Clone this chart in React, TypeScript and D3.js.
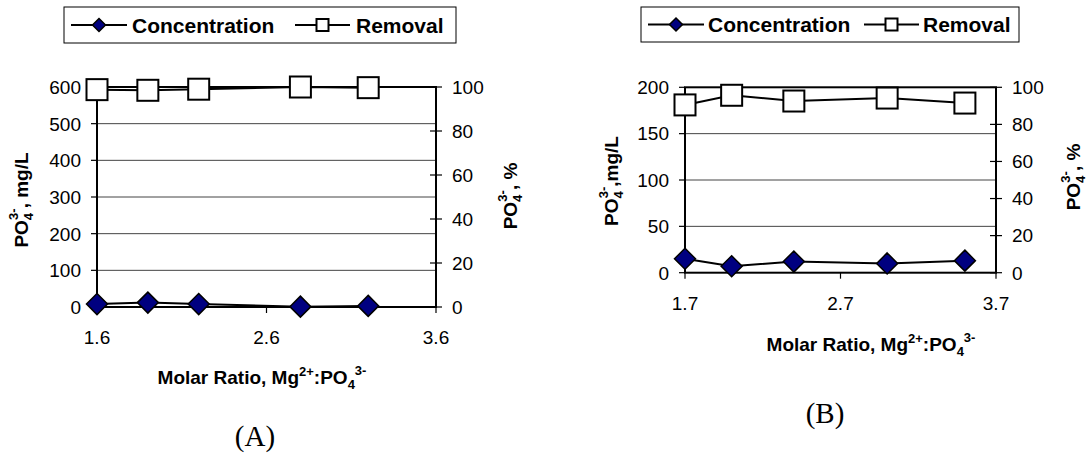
import React from "react";
import * as d3 from "d3";

// ---- Data ----
const ratioA = [1.6, 1.9, 2.2, 2.8, 3.2];
const concentrationA = [8, 12, 8, 1, 3];
const removalA = [98.8, 98.5, 99.0, 100, 99.7];
const xTicksA = [1.6, 2.6, 3.6];
const yLeftTicksA = [0, 100, 200, 300, 400, 500, 600];

const ratioB = [1.7, 2.0, 2.4, 3.0, 3.5];
const concentrationB = [15, 7, 12, 10, 13];
const removalB = [90.5, 95.7, 92.6, 94.2, 91.5];
const xTicksB = [1.7, 2.7, 3.7];
const yLeftTicksB = [0, 50, 100, 150, 200];

const yRightTicks = [0, 20, 40, 60, 80, 100];
const seriesNames = ["Concentration", "Removal"];

const SANS = "Arial, 'Liberation Sans', Helvetica, sans-serif";
const SERIF = "'Times New Roman', 'Liberation Serif', serif";
const NAVY = "#000080";

type PanelProps = {
  ratio: number[];
  conc: number[];
  rem: number[];
  xTicks: number[];
  yTicks: number[];
  xDomain: [number, number];
  yMax: number;
  left: number;
  right: number;
  top: number;
  bottom: number;
  legend: { x0: number; x1: number; y0: number; y1: number; l1: number; t1: number; l2: number; t2: number };
  leftTitle: { x: number; y: number; sep: string };
  rightTitle: { x: number; y: number };
  tickBaseline: number;
  xTitle: { x: number; y: number };
  label: { text: string; x: number; y: number };
};

function Diamond({ x, y, r }: { x: number; y: number; r: number }) {
  return (
    <path
      d={`M${x},${y - r}L${x + r},${y}L${x},${y + r}L${x - r},${y}Z`}
      fill={NAVY}
      stroke="#000"
      strokeWidth={1.5}
    />
  );
}

function Square({ x, y, s }: { x: number; y: number; s: number }) {
  return <rect x={x - s / 2} y={y - s / 2} width={s} height={s} fill="#fff" stroke="#000" strokeWidth={2} />;
}

function Panel(p: PanelProps) {
  const x = d3.scaleLinear().domain(p.xDomain).range([p.left, p.right]);
  const yL = d3.scaleLinear().domain([0, p.yMax]).range([p.bottom, p.top]);
  const yR = d3.scaleLinear().domain([0, 100]).range([p.bottom, p.top]);
  const lineL = d3
    .line<number>()
    .x((_, i) => x(p.ratio[i]))
    .y((d) => yL(d));
  const lineR = d3
    .line<number>()
    .x((_, i) => x(p.ratio[i]))
    .y((d) => yR(d));
  const lg = p.legend;
  const lgMid = (lg.y0 + lg.y1) / 2;
  return (
    <g>
      {/* legend */}
      <rect x={lg.x0} y={lg.y0} width={lg.x1 - lg.x0} height={lg.y1 - lg.y0} fill="#fff" stroke="#000" strokeWidth={1} />
      <line x1={lg.l1} x2={lg.l1 + 56} y1={lgMid} y2={lgMid} stroke="#000" strokeWidth={2} />
      <Diamond x={lg.l1 + 28} y={lgMid} r={6.5} />
      <text x={lg.t1} y={lgMid + 7.5} fontFamily={SANS} fontWeight="bold" fontSize={21}>
        {seriesNames[0]}
      </text>
      <line x1={lg.l2} x2={lg.l2 + 55} y1={lgMid} y2={lgMid} stroke="#000" strokeWidth={2} />
      <Square x={lg.l2 + 27.5} y={lgMid} s={12} />
      <text x={lg.t2} y={lgMid + 7.5} fontFamily={SANS} fontWeight="bold" fontSize={21}>
        {seriesNames[1]}
      </text>

      {/* gridlines */}
      {p.yTicks
        .filter((t) => t > 0 && t < p.yMax)
        .map((t) => (
          <line key={"g" + t} x1={p.left} x2={p.right} y1={yL(t)} y2={yL(t)} stroke="#444" strokeWidth={1} />
        ))}
      {/* left ticks + labels */}
      {p.yTicks.map((t) => (
        <g key={"l" + t}>
          <line x1={p.left - 6} x2={p.left} y1={yL(t)} y2={yL(t)} stroke="#000" strokeWidth={1.2} />
          <text x={p.left - 16} y={yL(t)} dy="0.36em" textAnchor="end" fontFamily={SANS} fontSize={19}>
            {t}
          </text>
        </g>
      ))}
      {/* right ticks + labels */}
      {yRightTicks.map((t) => (
        <g key={"r" + t}>
          <line x1={p.right - 6} x2={p.right + 6} y1={yR(t)} y2={yR(t)} stroke="#000" strokeWidth={1.2} />
          <text x={p.right + 16} y={yR(t)} dy="0.36em" textAnchor="start" fontFamily={SANS} fontSize={19}>
            {t}
          </text>
        </g>
      ))}
      {/* x ticks + labels */}
      {p.xTicks.map((t) => (
        <g key={"x" + t}>
          <line x1={x(t)} x2={x(t)} y1={p.bottom} y2={p.bottom + 6} stroke="#000" strokeWidth={1.2} />
          <text x={x(t)} y={p.tickBaseline} textAnchor="middle" fontFamily={SANS} fontSize={19}>
            {t.toFixed(1)}
          </text>
        </g>
      ))}
      {/* plot border */}
      <rect x={p.left} y={p.top} width={p.right - p.left} height={p.bottom - p.top} fill="none" stroke="#000" strokeWidth={2} />

      {/* series lines */}
      <path d={lineR(p.rem) || ""} fill="none" stroke="#000" strokeWidth={2} />
      <path d={lineL(p.conc) || ""} fill="none" stroke="#000" strokeWidth={2} />
      {p.rem.map((v, i) => (
        <Square key={"s" + i} x={x(p.ratio[i])} y={yR(v)} s={21} />
      ))}
      {p.conc.map((v, i) => (
        <Diamond key={"d" + i} x={x(p.ratio[i])} y={yL(v)} r={10.5} />
      ))}

      {/* left title */}
      <text
        transform={`translate(${p.leftTitle.x},${p.leftTitle.y}) rotate(-90)`}
        textAnchor="middle"
        fontFamily={SANS}
        fontWeight="bold"
        fontSize={19}
      >
        PO
        <tspan fontSize={13} dy={5}>4</tspan>
        <tspan fontSize={13} dx={-7} dy={-15}>3-</tspan>
        <tspan dy={10}>{p.leftTitle.sep}mg/L</tspan>
      </text>
      {/* right title */}
      <text
        transform={`translate(${p.rightTitle.x},${p.rightTitle.y}) rotate(-90)`}
        textAnchor="middle"
        fontFamily={SANS}
        fontWeight="bold"
        fontSize={19}
      >
        PO
        <tspan fontSize={13} dy={5}>4</tspan>
        <tspan fontSize={13} dx={-7} dy={-15}>3-</tspan>
        <tspan dy={10}>, %</tspan>
      </text>
      {/* x title */}
      <text x={p.xTitle.x} y={p.xTitle.y} textAnchor="middle" fontFamily={SANS} fontWeight="bold" fontSize={19}>
        Molar Ratio, Mg
        <tspan fontSize={13} dy={-8}>2+</tspan>
        <tspan dy={8}>:PO</tspan>
        <tspan fontSize={13} dy={5}>4</tspan>
        <tspan fontSize={13} dy={-14}>3-</tspan>
      </text>
      {/* panel label */}
      <text x={p.label.x} y={p.label.y} textAnchor="middle" fontFamily={SERIF} fontSize={29}>
        {p.label.text}
      </text>
    </g>
  );
}

export default function App() {
  return (
    <svg
      width={1089}
      height={453}
      style={{ position: "absolute", left: 0, top: 0, background: "#fff" }}
    >
      <rect x={0} y={0} width={1089} height={453} fill="#fff" />
      <Panel
        ratio={ratioA}
        conc={concentrationA}
        rem={removalA}
        xTicks={xTicksA}
        yTicks={yLeftTicksA}
        xDomain={[1.6, 3.6]}
        yMax={600}
        left={97}
        right={436}
        top={87}
        bottom={307}
        legend={{ x0: 64, x1: 456, y0: 7, y1: 43, l1: 71, t1: 132, l2: 295, t2: 356 }}
        leftTitle={{ x: 28, y: 200, sep: ", " }}
        rightTitle={{ x: 517, y: 196 }}
        tickBaseline={344}
        xTitle={{ x: 262, y: 384 }}
        label={{ text: "(A)", x: 255, y: 446 }}
      />
      <Panel
        ratio={ratioB}
        conc={concentrationB}
        rem={removalB}
        xTicks={xTicksB}
        yTicks={yLeftTicksB}
        xDomain={[1.7, 3.7]}
        yMax={200}
        left={685}
        right={996}
        top={87.3}
        bottom={272.7}
        legend={{ x0: 641, x1: 1019, y0: 7, y1: 42, l1: 648, t1: 708, l2: 864, t2: 923 }}
        leftTitle={{ x: 618, y: 181, sep: "," }}
        rightTitle={{ x: 1080, y: 177 }}
        tickBaseline={310}
        xTitle={{ x: 871, y: 351 }}
        label={{ text: "(B)", x: 825, y: 423 }}
      />
    </svg>
  );
}
